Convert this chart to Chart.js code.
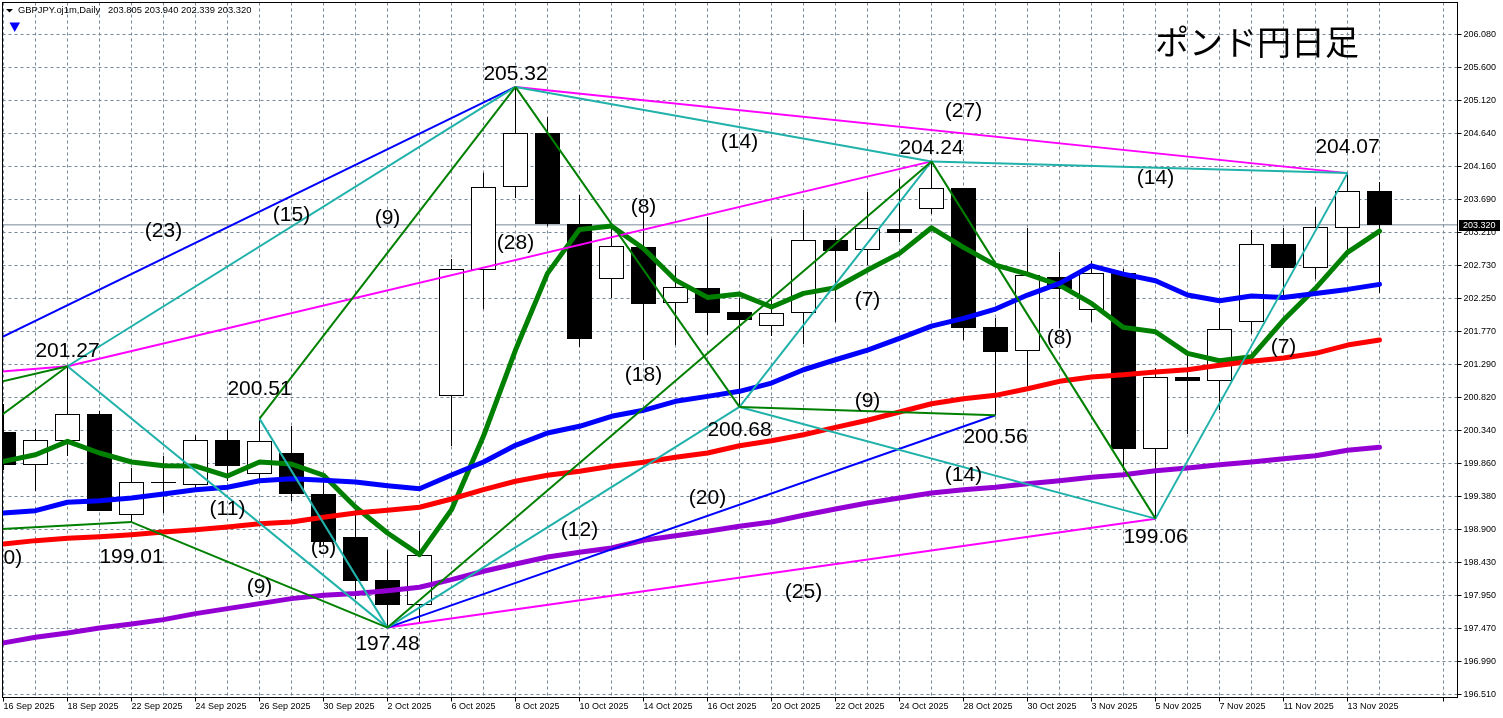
<!DOCTYPE html>
<html>
<head>
<meta charset="utf-8">
<title>GBPJPY Daily</title>
<script src="https://cdn.jsdelivr.net/npm/chart.js@4/dist/chart.umd.min.js"></script>
<style>
html, body { margin: 0; padding: 0; background: #fff; overflow: hidden; }
canvas { display: block; }
</style>
</head>
<body>
<canvas id="myChart" width="1503" height="718"></canvas>
<script>
//=====================================
// データ (日足 16 Sep - 14 Nov 2025)
//=====================================
var openPrice = [200.316,199.842,200.186,200.577,199.109,199.590,199.544,200.200,199.703,200.012,199.417,198.794,198.171,197.813,200.833,202.660,203.862,204.649,203.331,202.529,202.997,202.181,202.403,202.055,201.848,202.036,203.099,202.949,203.258,203.544,203.852,201.838,201.490,202.558,202.080,202.616,200.065,201.109,201.051,201.906,203.041,202.689,203.268,203.805];
var highPrice = [200.722,200.364,201.270,200.620,199.794,199.964,200.273,200.349,200.510,200.399,199.649,199.215,198.610,198.877,202.819,204.074,205.320,204.886,203.755,203.300,203.490,202.726,203.436,202.254,203.118,203.533,203.268,203.794,203.987,204.240,203.855,201.964,203.268,202.929,202.799,202.674,201.244,201.432,202.109,203.244,203.268,203.573,204.070,203.940];
var lowPrice = [199.770,199.465,199.973,199.171,199.010,199.142,199.505,199.606,199.625,199.320,198.678,197.900,197.480,197.544,200.109,202.094,203.712,203.302,201.552,202.254,201.360,201.577,201.722,200.680,201.712,201.591,201.906,202.736,203.074,203.475,201.649,200.560,200.978,201.819,201.906,199.770,199.060,200.287,200.639,201.732,202.287,202.529,202.954,202.339];
var closePrice = [199.842,200.196,200.573,199.176,199.587,199.576,200.196,199.828,200.181,199.422,198.717,198.161,197.813,198.529,202.674,203.862,204.645,203.331,201.668,203.007,202.176,202.413,202.045,201.944,202.036,203.094,202.944,203.268,203.204,203.848,201.828,201.480,202.587,202.393,202.616,200.065,201.109,201.060,201.804,203.036,202.689,203.283,203.805,203.320];

// 移動平均線
var maGreen = [199.891,199.987,200.181,200.012,199.881,199.828,199.823,199.678,199.881,199.852,199.689,199.229,198.852,198.538,199.190,200.258,201.504,202.616,203.254,203.302,202.978,202.519,202.268,202.316,202.128,202.326,202.407,202.664,202.906,203.277,202.993,202.736,202.606,202.446,202.181,201.833,201.770,201.457,201.349,201.407,201.939,202.399,202.920,203.229];
var maBlue = [199.142,199.176,199.297,199.320,199.359,199.417,199.480,199.515,199.610,199.639,199.616,199.591,199.538,199.494,199.693,199.881,200.123,200.302,200.399,200.544,200.631,200.761,200.833,200.906,201.026,201.219,201.364,201.504,201.674,201.852,201.964,202.099,202.302,202.471,202.726,202.606,202.509,202.302,202.219,202.287,202.268,202.326,202.384,202.457];
var maRed = [198.693,198.741,198.775,198.799,198.828,198.867,198.900,198.939,198.987,199.012,199.080,199.142,199.181,199.225,199.345,199.480,199.602,199.689,199.747,199.819,199.877,199.949,200.012,200.117,200.190,200.277,200.384,200.486,200.606,200.726,200.799,200.848,200.944,201.051,201.113,201.146,201.186,201.219,201.283,201.341,201.389,201.457,201.577,201.649];
var maPurple = [197.258,197.341,197.403,197.475,197.533,197.596,197.683,197.755,197.828,197.900,197.949,197.973,198.016,198.065,198.175,198.297,198.403,198.504,198.573,198.635,198.746,198.813,198.877,198.949,199.012,199.109,199.200,199.287,199.359,199.432,199.480,199.515,199.567,199.610,199.660,199.697,199.755,199.794,199.842,199.881,199.929,199.973,200.051,200.094];

// 波の線 [開始バー, 開始値, 終了バー, 終了値]
var greenLegs = [[-3,199.548,2,201.27],[-7,200.294,2,201.27],[-9,198.684,4,199.01],[4,199.01,12,197.48],[12,197.48,29,204.24],[8,200.51,16,205.32],[16,205.32,23,200.68],[23,200.68,31,200.56],[29,204.24,36,199.06]];
var tealLegs = [[2,201.27,12,197.48],[8,200.51,12,197.48],[2,201.27,16,205.32],[12,197.48,23,200.68],[16,205.32,29,204.24],[23,200.68,29,204.24],[23,200.68,36,199.06],[29,204.24,42,204.07],[36,199.06,42,204.07]];
var blueLegs = [[-7,200.122,16,205.32],[12,197.48,31,200.56]];
var magentaLegs = [[-8,200.902,2,201.27],[2,201.27,29,204.24],[16,205.32,42,204.07],[12,197.48,36,199.06]];

// 軸ラベル
var dateLabels = ["16 Sep 2025","18 Sep 2025","22 Sep 2025","24 Sep 2025","26 Sep 2025","30 Sep 2025","2 Oct 2025","6 Oct 2025","8 Oct 2025","10 Oct 2025","14 Oct 2025","16 Oct 2025","20 Oct 2025","22 Oct 2025","24 Oct 2025","28 Oct 2025","30 Oct 2025","3 Nov 2025","5 Nov 2025","7 Nov 2025","11 Nov 2025","13 Nov 2025"];
var priceTicks = [206.08,205.60,205.12,204.64,204.16,203.69,203.21,202.73,202.25,201.77,201.29,200.82,200.34,199.86,199.38,198.90,198.43,197.95,197.47,196.99,196.51];
var lastPrice = 203.32;
var headerSymbol = "GBPJPY.oj1m,Daily";
var headerPrices = "203.805 203.940 202.339 203.320";
var titleText = "ポンド円日足";

// 書き込みテキスト [バー, 値, 文字]
var swingNotes = [[16,205.505,"205.32"],[2,201.490,"201.27"],[8,200.939,"200.51"],[4,198.504,"199.01"],[12,197.236,"197.48"],[23,200.345,"200.68"],[29,204.432,"204.24"],[31,200.244,"200.56"],[36,198.794,"199.06"],[42,204.447,"204.07"],
  [5,203.229,"(23)"],[9,203.461,"(15)"],[12,203.418,"(9)"],[16,203.055,"(28)"],[23,204.519,"(14)"],[20,203.577,"(8)"],[30,204.968,"(27)"],[36,203.997,"(14)"],[20,201.142,"(18)"],[27,202.229,"(7)"],[7,199.200,"(11)"],[0,198.490,"(10)"],[10,198.635,"(5)"],[8,198.070,"(9)"],[18,198.896,"(12)"],[22,199.360,"(20)"],[27,200.765,"(9)"],[30,199.693,"(14)"],[25,197.997,"(25)"],[33,201.678,"(8)"],[40,201.548,"(7)"]];

//=====================================
// データセット作成
//=====================================
var datasets = [];

function isUp(i) {
  return closePrice[i] >= openPrice[i];
}

// ヒゲ
datasets.push({
  type: 'bar', order: 4, grouped: false, barThickness: 1,
  backgroundColor: '#000', inflateAmount: 0, borderWidth: 0,
  data: highPrice.map(function(h, i) { return { x: i, y: [lowPrice[i], h] }; })
});
// 実体
datasets.push({
  type: 'bar', order: 3, grouped: false, barThickness: 25,
  backgroundColor: openPrice.map(function(o, i) { return isUp(i) ? '#fff' : '#000'; }),
  borderColor: '#000', borderWidth: 1, borderSkipped: false, inflateAmount: 0,
  data: openPrice.map(function(o, i) { return { x: i, y: [o, closePrice[i]] }; })
});

function addMa(values, color) {
  datasets.push({
    type: 'line', order: 2, borderColor: color, borderWidth: 5, pointRadius: 0,
    tension: 0, borderCapStyle: 'round', borderJoinStyle: 'round', clip: 0,
    data: values.map(function(v, i) { return { x: i, y: v }; })
  });
}
addMa(maPurple, '#9400d3');
addMa(maRed, '#ff0000');
addMa(maBlue, '#0000ff');
addMa(maGreen, '#008000');

function addLegs(legs, color) {
  legs.forEach(function(leg) {
    datasets.push({
      type: 'line', order: 1, borderColor: color, borderWidth: 2, pointRadius: 0,
      tension: 0, clip: 0,
      data: [{ x: leg[0], y: leg[1] }, { x: leg[2], y: leg[3] }]
    });
  });
}
addLegs(greenLegs, '#008000');
addLegs(tealLegs, '#20b2aa');
addLegs(blueLegs, '#0000ff');
addLegs(magentaLegs, '#ff00ff');

// 現在値の線
datasets.push({
  type: 'line', order: 5, borderColor: '#778899', borderWidth: 1, pointRadius: 0, clip: 0,
  data: [{ x: -1, y: lastPrice }, { x: 46, y: lastPrice }]
});

//=====================================
// 文字・枠の描画
//=====================================
var notesPlugin = {
  id: 'notes',
  // 実体の上下をピクセルに揃える
  afterDatasetsUpdate: function(chart) {
    [0, 1].forEach(function(n) {
      chart.getDatasetMeta(n).data.forEach(function(el) {
        el.y = Math.round(el.y);
        el.base = Math.round(el.base);
      });
    });
  },
  afterDatasetsDraw: function(chart) {
    var ctx = chart.ctx, a = chart.chartArea, x = chart.scales.x, y = chart.scales.y;
    ctx.save();
    ctx.beginPath();
    ctx.rect(a.left, a.top, a.width, a.height);
    ctx.clip();
    ctx.fillStyle = '#000';
    ctx.font = '21px "Liberation Sans"';
    ctx.textAlign = 'center';
    ctx.textBaseline = 'middle';
    swingNotes.forEach(function(n) {
      ctx.fillText(n[2], x.getPixelForValue(n[0]), y.getPixelForValue(n[1]));
    });
    ctx.font = '34px "Noto Sans CJK JP"';
    ctx.fillText(titleText, 1257, 42);
    ctx.restore();
  },
  afterDraw: function(chart) {
    var ctx = chart.ctx, a = chart.chartArea, y = chart.scales.y;
    ctx.save();
    ctx.strokeStyle = '#000';
    ctx.lineWidth = 1;
    ctx.strokeRect(a.left, a.top, a.width, a.height);

    ctx.fillStyle = '#000';
    ctx.beginPath();
    ctx.moveTo(6, 9); ctx.lineTo(13, 9); ctx.lineTo(9.5, 12.5);
    ctx.fill();
    ctx.font = '9.4px "Liberation Sans"';
    ctx.textAlign = 'left';
    ctx.textBaseline = 'middle';
    ctx.fillText(headerSymbol, 18, 10.5);
    ctx.fillText(headerPrices, 108, 10.5);

    ctx.fillStyle = '#0000ff';
    ctx.beginPath();
    ctx.moveTo(9.5, 22.5); ctx.lineTo(20, 22.5); ctx.lineTo(14.7, 32);
    ctx.fill();

    // 現在値ボックス
    var py = Math.round(y.getPixelForValue(lastPrice));
    ctx.fillStyle = '#000';
    ctx.fillRect(1459, py - 5, 41, 11);
    ctx.fillStyle = '#fff';
    ctx.font = '9px "Liberation Sans"';
    ctx.fillText(lastPrice.toFixed(3), 1463, py + 0.5);
    ctx.restore();
  }
};

//=====================================
// チャート
//=====================================
var barTicks = [];
for (var i = 0; i <= 45; i++) { barTicks.push(i); }

var ctx = document.getElementById("myChart");
var myChart = new Chart(ctx, {
  type: 'bar',
  data: { datasets: datasets },
  plugins: [notesPlugin],
  options: {
    responsive: false,
    animation: false,
    events: [],
    layout: { padding: { left: 2.5, top: 2.5, right: 0, bottom: 0 } },
    plugins: { legend: { display: false }, tooltip: { enabled: false }, title: { display: false } },
    scales: {
      x: {
        type: 'linear',
        offset: false,
        min: -0.03125,
        max: 45.4375,
        afterBuildTicks: function(s) { s.ticks = barTicks.map(function(v) { return { value: v }; }); },
        afterFit: function(s) { s.height = 20.5; s.paddingLeft = 0; s.paddingRight = 0; },
        grid: {
          offset: false,
          color: '#778899', tickLength: 4,
          tickColor: function(c) { return c.index % 2 ? 'rgba(0,0,0,0)' : '#000'; }
        },
        border: { dash: [3, 3], color: '#000' },
        ticks: {
          autoSkip: false, maxRotation: 0, align: 'start', padding: 0, color: '#000',
          font: { family: '"Liberation Sans"', size: 9 },
          callback: function(v, idx) { return idx % 2 ? '' : dateLabels[idx / 2]; }
        }
      },
      y: {
        position: 'right',
        min: 196.4665,
        max: 206.544,
        afterBuildTicks: function(s) { s.ticks = priceTicks.map(function(v) { return { value: v }; }); },
        afterFit: function(s) { s.width = 45.5; s.paddingTop = 0; s.paddingBottom = 0; },
        grid: { color: '#778899', tickLength: 4, tickColor: '#000' },
        border: { dash: [3, 3], color: '#000' },
        ticks: {
          autoSkip: false, padding: 2, color: '#000',
          font: { family: '"Liberation Sans"', size: 9 },
          callback: function(v) { return v.toFixed(3); }
        }
      }
    }
  }
});
</script>
</body>
</html>
